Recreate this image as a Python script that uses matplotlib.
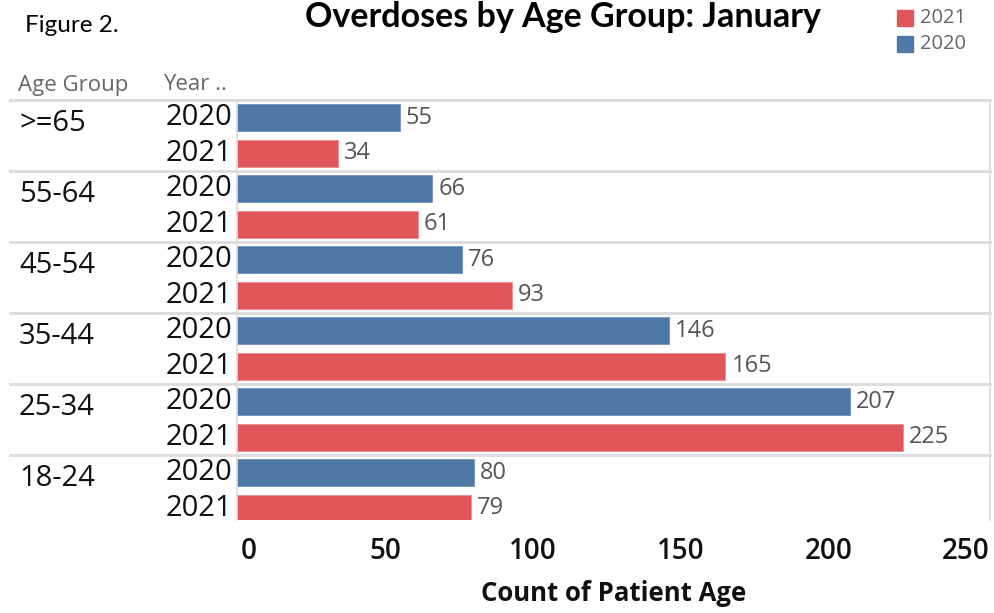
import matplotlib
matplotlib.use("Agg")
import matplotlib.pyplot as plt
import matplotlib.transforms as mtransforms
import numpy as np

# data (top to bottom)
age_groups = [">=65", "55-64", "45-54", "35-44", "25-34", "18-24"]
count_2020 = [55, 66, 76, 146, 207, 80]
count_2021 = [34, 61, 93, 165, 225, 79]
x_ticks = [0, 50, 100, 150, 200, 250]

blue = "#4e79a7"
red = "#e15759"
grid_gray = "#dcdcdc"
label_gray = "#555555"

plt.rcParams["font.family"] = ["Open Sans", "DejaVu Sans"]

W, H = 995, 613
fig = plt.figure(figsize=(W / 100, H / 100), dpi=100)
ax_left, ax_right, ax_top, ax_bottom = 237, 990, 100, 520
ax = fig.add_axes([ax_left / W, 1 - ax_bottom / H,
                   (ax_right - ax_left) / W, (ax_bottom - ax_top) / H])

n = len(age_groups)
y2020 = np.arange(n) * 2
y2021 = y2020 + 1
bar_h = 0.76

ax.barh(y2020, count_2020, height=bar_h, color=blue, edgecolor="#6f93bb", linewidth=0.6)
ax.barh(y2021, count_2021, height=bar_h, color=red, edgecolor="#ec8a8b", linewidth=0.6)

for y, v in zip(y2020, count_2020):
    ax.text(v + 2, y, str(v), va="center", ha="left", fontsize=17, color=label_gray)
for y, v in zip(y2021, count_2021):
    ax.text(v + 2, y, str(v), va="center", ha="left", fontsize=17, color=label_gray)

xmax = (ax_right - ax_left) / 2.96
ax.set_xlim(0, xmax)
ax.set_ylim(2 * n - 0.5 - 6 / 35.5, -0.5)

# row / group labels
trans = mtransforms.blended_transform_factory(ax.transAxes, ax.transData)
px = 1.0 / (ax_right - ax_left)
for i, g in enumerate(age_groups):
    ax.text(-(ax_left - 19) * px, y2020[i] + 0.15, g, transform=trans, ha="left",
            va="center", fontsize=21, color="#111111")
    ax.text(-5 * px, y2020[i], "2020", transform=trans, ha="right",
            va="center", fontsize=21, color="#111111")
    ax.text(-5 * px, y2021[i], "2021", transform=trans, ha="right",
            va="center", fontsize=21, color="#111111")

# group separators extending into the label columns
for k in range(n):
    yy = 2 * k - 0.5
    ax.plot([-(ax_left - 10) * px, 1], [yy, yy], transform=trans, color=grid_gray,
            linewidth=2, clip_on=False, zorder=0)

for s in ["top", "bottom"]:
    ax.spines[s].set_visible(False)
ax.spines["left"].set_color(grid_gray)
ax.spines["left"].set_linewidth(1.2)
ax.spines["right"].set_color(grid_gray)
ax.spines["right"].set_linewidth(1.2)

ax.set_yticks([])
ax.set_xticks(x_ticks)
ax.set_xticklabels([str(t) for t in x_ticks], fontsize=20, fontweight="semibold",
                   color="#111111")
ax.tick_params(axis="x", length=0, pad=12)
tl = ax.get_xticklabels()
tl[0].set_ha("left")
tl[0].set_transform(tl[0].get_transform() +
                    mtransforms.ScaledTranslation(4 / 100, 0, fig.dpi_scale_trans))
tl[-1].set_ha("right")
tl[-1].set_transform(tl[-1].get_transform() +
                     mtransforms.ScaledTranslation(13 / 100, 0, fig.dpi_scale_trans))
ax.set_xlabel("Count of Patient Age", fontsize=18.5, fontweight="bold",
              color="#111111", labelpad=10)

# column headers
fig.text(18 / W, 1 - 85 / H, "Age Group", fontsize=16, color="#666666",
         ha="left", va="center")
fig.text(163 / W, 1 - 85 / H, "Year ..", fontsize=16, color="#666666",
         ha="left", va="center")

# title and figure label
fig.text(563 / W, 1 - 1 / H, "Overdoses by Age Group: January", fontsize=24.5,
         fontweight="bold", ha="center", va="top", family=["Lato", "DejaVu Sans"])
fig.text(25 / W, 1 - 25 / H, "Figure 2.", fontsize=17.5, ha="left", va="center",
         family=["Lato", "DejaVu Sans"])

# legend
for j, (lab, col) in enumerate([("2021", red), ("2020", blue)]):
    yc = 18 + j * 26
    fig.patches.append(plt.Rectangle((897 / W, 1 - (yc + 8) / H), 16 / W, 16 / H,
                                     transform=fig.transFigure, color=col))
    fig.text(920 / W, 1 - yc / H, lab, fontsize=14.5, color="#666666",
             ha="left", va="center")

fig.savefig("out.png", dpi=100)
